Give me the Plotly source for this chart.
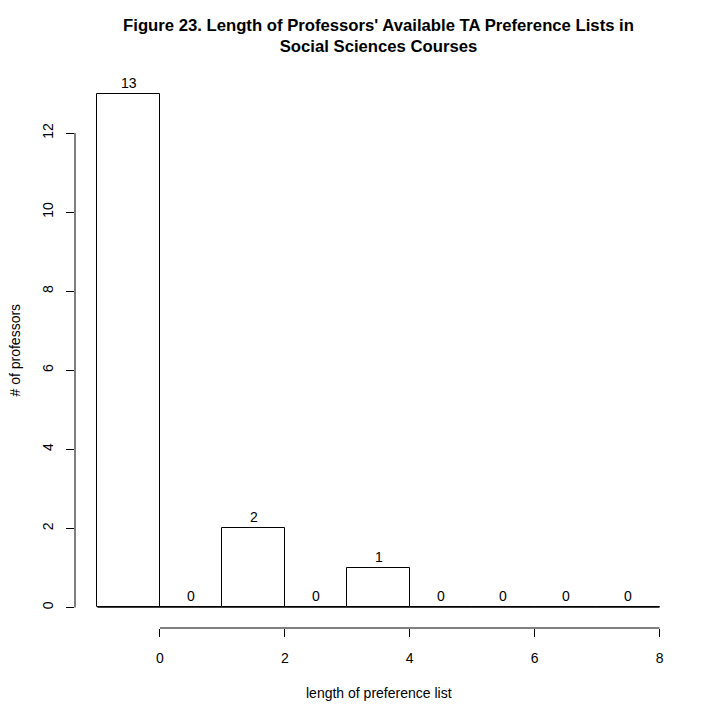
import plotly.graph_objects as go

bin_edges = [-1, 0, 1, 2, 3, 4, 5, 6, 7, 8]
counts = [13, 0, 2, 0, 1, 0, 0, 0, 0]
x_ticks = [0, 2, 4, 6, 8]
y_ticks = [0, 2, 4, 6, 8, 10, 12]
title = "Figure 23. Length of Professors' Available TA Preference Lists in<br>Social Sciences Courses"
x_title = "length of preference list"
y_title = "# of professors"

mids = [(bin_edges[i] + bin_edges[i + 1]) / 2 for i in range(len(counts))]
widths = [bin_edges[i + 1] - bin_edges[i] for i in range(len(counts))]

FONT = "Liberation Sans, Arial, Helvetica, sans-serif"
FS = 14

fig = go.Figure()
fig.add_trace(go.Bar(
    x=mids, y=counts, width=widths,
    marker=dict(color="white", line=dict(color="black", width=1)),
    hoverinfo="x+y", showlegend=False,
))
# baseline of zero-height bins
fig.add_trace(go.Scatter(
    x=[bin_edges[0], bin_edges[-1]], y=[0, 0], mode="lines",
    line=dict(color="black", width=0.8), showlegend=False, hoverinfo="skip",
))

annotations = [
    dict(text=str(c), x=m, y=c, xref="x", yref="y", yanchor="middle", yshift=11,
         showarrow=False, font=dict(size=FS))
    for m, c in zip(mids, counts)
]
annotations += [
    dict(text=x_title, xref="paper", yref="paper", x=0.5, y=0, yanchor="middle",
         yshift=-65, showarrow=False, font=dict(size=FS)),
    dict(text=y_title, xref="paper", yref="paper", x=0, y=0.5, xanchor="center",
         xshift=-61, textangle=-90, showarrow=False, font=dict(size=FS)),
]

xr = bin_edges[-1] - bin_edges[0]
ymax = max(counts)
fig.update_layout(
    width=720, height=720,
    paper_bgcolor="white", plot_bgcolor="white",
    margin=dict(l=67, r=46, t=65, b=100, autoexpand=False),
    font=dict(family=FONT, size=FS, color="black"),
    title=dict(text=title, x=0.5, xref="paper", xanchor="center",
               y=1 - 22.5 / 720, yref="container", yanchor="middle", automargin=False,
               font=dict(family=FONT, size=16.7, color="black", weight="bold")),
    bargap=0,
    xaxis=dict(range=[bin_edges[0] - 0.04 * xr, bin_edges[-1] + 0.04 * xr],
               tickvals=x_ticks, ticktext=[str(v) for v in x_ticks],
               ticks="outside", ticklen=8, tickcolor="black", tickwidth=1,
               showline=False, showgrid=False, zeroline=False, automargin=False,
               tickfont=dict(size=FS), ticklabelstandoff=9),
    yaxis=dict(range=[-0.04 * ymax, ymax * 1.04],
               tickvals=y_ticks, ticktext=[str(v) for v in y_ticks],
               ticks="outside", ticklen=8, tickcolor="black", tickwidth=1,
               showline=False, showgrid=False, zeroline=False, automargin=False,
               tickangle=-90, tickfont=dict(size=FS), ticklabelstandoff=7),
    shapes=[
        dict(type="line", xref="x", yref="paper", x0=x_ticks[0], x1=x_ticks[-1], y0=0, y1=0,
             line=dict(color="black", width=1)),
        dict(type="line", xref="paper", yref="y", x0=0, x1=0, y0=y_ticks[0], y1=y_ticks[-1],
             line=dict(color="black", width=1)),
    ],
    annotations=annotations,
)
fig.write_html("out.html")
